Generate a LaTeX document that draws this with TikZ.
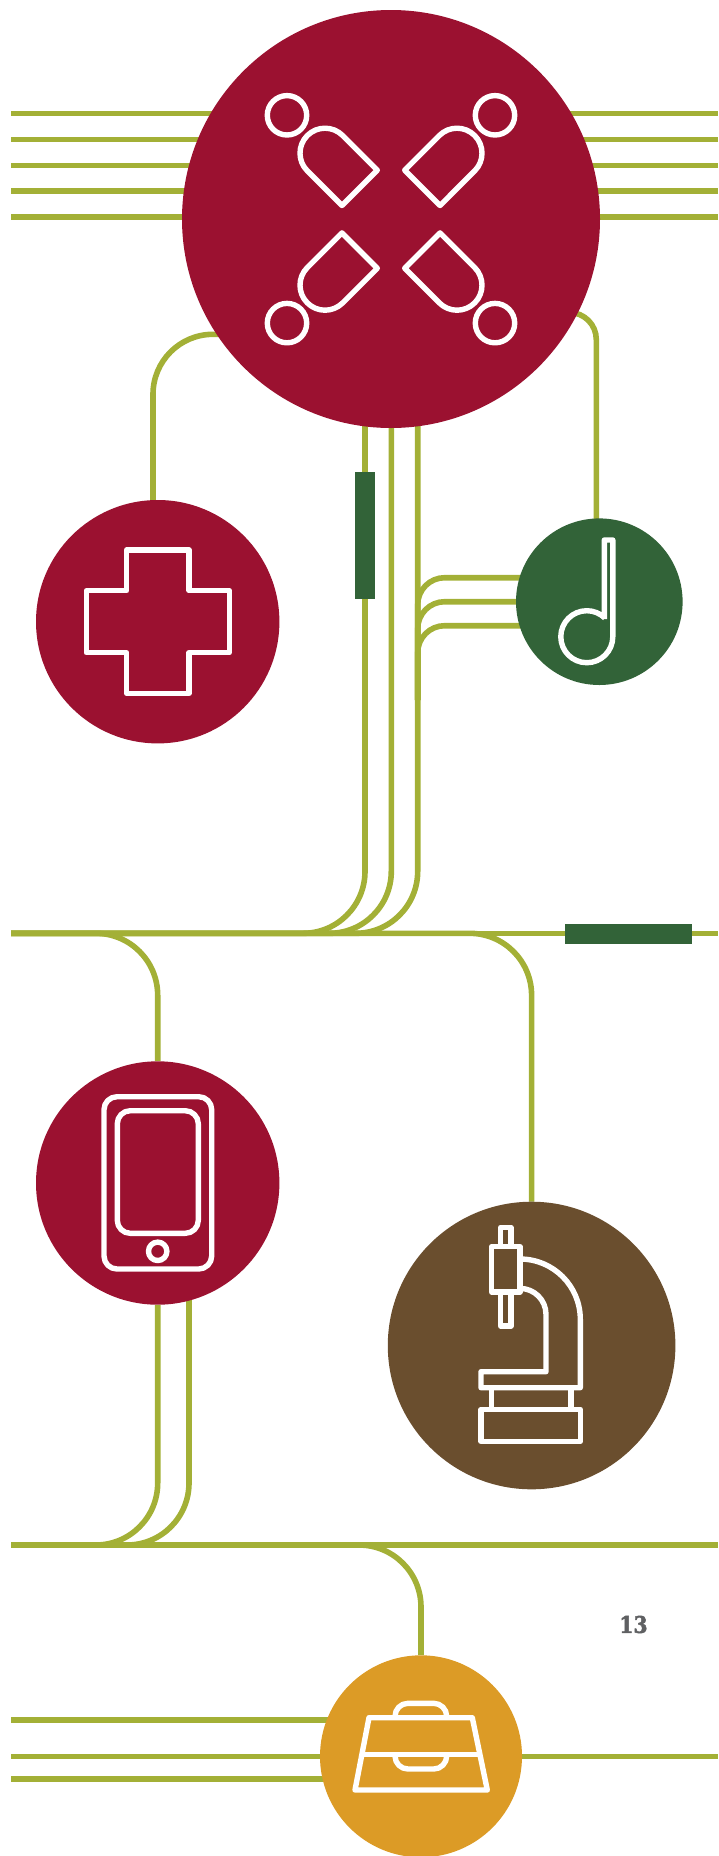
\documentclass[tikz,border=0pt]{standalone}
\usepackage{fontspec}
\usetikzlibrary{backgrounds}
\newfontfamily\pagefont[FakeStretch=0.88,FakeBold=2]{DejaVu Serif}

\definecolor{crimson}{RGB}{155,17,48}
\definecolor{forest}{RGB}{50,99,56}
\definecolor{olive}{RGB}{163,176,54}
\definecolor{umber}{RGB}{106,78,46}
\definecolor{amber}{RGB}{220,155,38}
\definecolor{pagegray}{RGB}{95,96,98}

\tikzset{
  disc/.style={circle,inner sep=0pt,minimum size=#1},
  bar/.style={fill=forest,inner sep=0pt},
  wire/.style={draw=olive,line width=5.6pt},
  icon/.style={draw=white,line width=5.4pt,line join=round}
}

\begin{document}
\begin{tikzpicture}[x=1pt,y=1pt,yscale=-1]

\useasboundingbox (0,0) rectangle (718,1856);

% Circulos
\node[disc=418pt,fill=crimson] (pills) at (391,219) {};
\node[disc=243.4pt,fill=crimson] (cross) at (157.7,621.7) {};
\node[disc=166.6pt,fill=forest] (note) at (599.3,601.7) {};
\node[disc=243.4pt,fill=crimson] (phone) at (157.7,1183) {};
\node[disc=287.6pt,fill=umber] (scope) at (531.6,1345.5) {};
\node[disc=202pt,fill=amber] (case) at (421,1756.3) {};

% Barras
\node[bar,minimum width=20pt,minimum height=127pt] (barv) at (365,535.5) {};
\node[bar,minimum width=127pt,minimum height=20pt] (barh) at (628.5,934) {};

% Numero
\node[text=pagegray,inner sep=0pt] (pagenum) at (633.5,1624.5) {\fontsize{23}{23}\pagefont\bfseries 13};

% Puntos libres
\coordinate (busl) at (11,933.3);
\coordinate (busr) at (718,933.3);
\coordinate (bustwol) at (11,1545);
\coordinate (bustwor) at (718,1545);
\coordinate (crossin) at (153,560);
\coordinate (pillsl) at (300,334.3);
\coordinate (pillsr) at (500,312.5);
\coordinate (notein) at (596.3,560);
\coordinate (dropa) at (365,300);
\coordinate (dropb) at (391.3,300);
\coordinate (dropc) at (417.7,300);
\coordinate (phoneb) at (189,1250);
\coordinate (mergec) at (417.7,700);

\begin{scope}[on background layer]

% Lineas de arriba
\foreach \n/\y in {a/113.5,b/139.3,c/165.3,d/191,e/217}{
  \coordinate (topl\n) at (11,\y);
  \coordinate (topr\n) at (718,\y);
  \draw[wire] (topl\n) -- (topr\n);
}

% Lineas de abajo
\foreach \n/\y in {a/1720,b/1756.3,c/1778.7}{
  \coordinate (casel\n) at (11,\y);
  \draw[wire] (casel\n) -- (casel\n -| case);
}
\coordinate (caser) at (718,1756.3);
\draw[wire] (case) -- (caser);

% Horizontales
\draw[wire] (busl) -- (busr);
\draw[wire] (bustwol) -- (bustwor);

% Curvas del circulo mayor
\draw[wire,rounded corners=60pt] (pillsl) -| (crossin);
\draw[wire,rounded corners=27pt] (pillsr) -| (notein);
\draw[wire,rounded corners=62pt] (dropa) |- (busl);
\draw[wire,rounded corners=62pt] (dropb) |- (busl);
\draw[wire,rounded corners=62pt] (dropc) |- (busl);

% Curvas de la nota
\foreach \n/\y in {a/577.7,b/601.7,c/625.7}{
  \coordinate (notel\n) at (599,\y);
  \draw[wire,rounded corners=27pt] (notel\n) -| (mergec);
}

% Curvas de las horizontales
\draw[wire,rounded corners=62pt] (busl) -| (phone);
\draw[wire,rounded corners=62pt] (busl) -| (scope);
\draw[wire,rounded corners=62pt] (phone) |- (bustwol);
\draw[wire,rounded corners=62pt] (phoneb) |- (bustwol);
\draw[wire,rounded corners=62pt] (bustwol) -| (case);

\end{scope}

% Pastillas
\foreach \sx/\sy in {1/1,-1/1,1/-1,-1/-1}{
  \begin{scope}[shift={(391,219.2)},xscale=\sx,yscale=\sy]
    \draw[icon] (-104,-103.9) circle (19.7);
    \draw[icon] (-13.7,-49.06) -- (-48.32,-83.68) arc[start angle=-45,end angle=-225,radius=25] -- (-49.06,-13.7) -- cycle;
  \end{scope}
}

% Cruz
\draw[icon] (126.7,550) -- (189,550) -- (189,590.7) -- (229.3,590.7) -- (229.3,652.7) -- (189,652.7) -- (189,693.3) -- (126.7,693.3) -- (126.7,652.7) -- (86.3,652.7) -- (86.3,590.7) -- (126.7,590.7) -- cycle;

% Nota
\draw[icon] (604.3,619) -- (604.3,540) -- (612.8,540) -- (612.8,636.7) arc[start angle=0,end angle=314,radius=26];

% Telefono
\draw[icon,rounded corners=13pt] (104,1096.7) rectangle (211.7,1269);
\draw[icon,rounded corners=13pt] (117.3,1110.7) rectangle (198.3,1233.3);
\draw[icon] (157.7,1251.3) circle (9.2);

% Microscopio
\draw[icon] (491.7,1246.7) rectangle (520,1292);
\draw[icon] (500.7,1246.7) -- (500.7,1227.3) -- (511,1227.3) -- (511,1246.7);
\draw[icon] (500.7,1292) -- (500.7,1326) -- (511,1326) -- (511,1292);
\draw[icon] (520,1259) arc[start angle=-90,end angle=0,radius=60.3] -- (580.3,1387.7) -- (481,1387.7) -- (481,1371.7) -- (546,1371.7) -- (546,1314.4) arc[start angle=0,end angle=-90,radius=26];
\draw[icon] (491.6,1387.7) -- (491.6,1409.3);
\draw[icon] (570.8,1387.7) -- (570.8,1409.3);
\draw[icon] (481,1409.3) rectangle (580.3,1441.3);

% Maletin
\draw[icon] (369,1717.7) -- (472.3,1717.7) -- (487.3,1790) -- (355,1790) -- cycle;
\draw[icon] (363.3,1754.3) -- (478.7,1754.3);
\draw[icon,rounded corners=13pt] (395,1717.7) -- (395,1703.3) -- (446.7,1703.3) -- (446.7,1717.7);
\draw[icon,rounded corners=13pt] (395,1754.3) -- (395,1769) -- (446.7,1769) -- (446.7,1754.3);

\end{tikzpicture}
\end{document}
